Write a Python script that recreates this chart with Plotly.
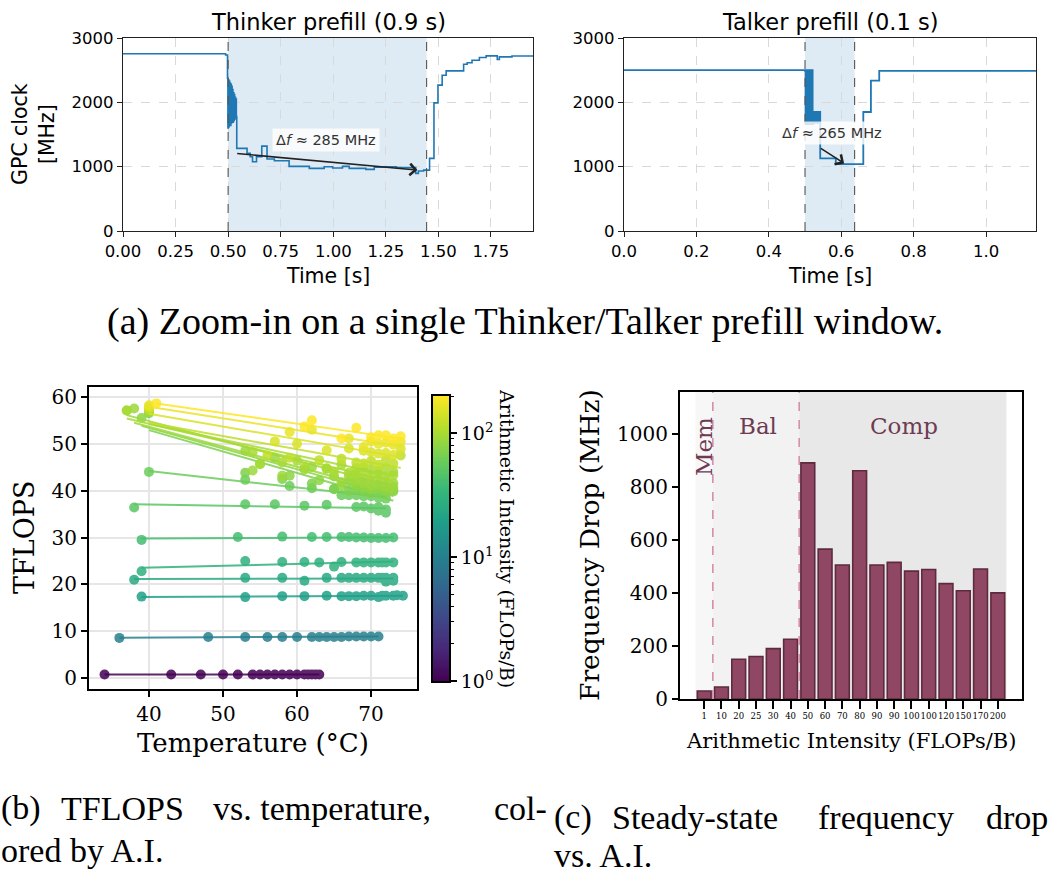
import numpy as np
import plotly.graph_objects as go
from plotly.colors import sample_colorscale

W, H = 1050, 876


def px(x):
    return x / W


def py(y):
    return 1 - y / H


SANS = "DejaVu Sans"
SERIF = "DejaVu Serif"
TIMES = "Liberation Serif"
BLUE = "#1f77b4"

# ---------------- (a) Thinker prefill ----------------
thinker_t = [0.0, 0.488,
             0.497, 0.499, 0.501, 0.503, 0.505, 0.507, 0.509, 0.511, 0.513, 0.515, 0.517,
             0.519, 0.521, 0.523, 0.525, 0.527, 0.529, 0.531, 0.533, 0.535, 0.537, 0.539,
             0.541, 0.590, 0.605, 0.616, 0.635, 0.645, 0.660, 0.685, 0.720, 0.790, 0.886,
             0.957, 0.997, 1.044, 1.076, 1.155, 1.195, 1.240, 1.300, 1.392, 1.405, 1.430,
             1.458, 1.479, 1.498, 1.518, 1.537, 1.620, 1.637, 1.660, 1.695, 1.727, 1.780,
             1.790, 1.850, 1.950]
thinker_f = [2755, 2735,
             2380, 1600, 2350, 1620, 2330, 1650, 2300, 1640, 2280, 1680, 2250,
             1700, 2200, 1690, 2150, 1720, 2120, 1740, 2080, 1760, 2050, 1780,
             1284, 1206, 1154, 1076, 1154, 1154, 1320, 1120, 1092, 1005, 973,
             999, 980, 1005, 973, 958, 990, 999, 985, 896, 932, 947,
             1129, 1992, 2267, 2422, 2489, 2593, 2615, 2655, 2696, 2722, 2666,
             2707, 2720, 2715]
thinker_window = [0.5, 1.444]

# ---------------- (a) Talker prefill ----------------
talker_t = [0.0,
            0.500, 0.5014, 0.5028, 0.5042, 0.5056, 0.5070, 0.5084, 0.5098, 0.5112, 0.5126,
            0.5140, 0.5154, 0.5168, 0.5182, 0.5196, 0.5210, 0.5225,
            0.5240, 0.5255, 0.5270, 0.5285, 0.5300, 0.5315, 0.5330, 0.5345, 0.5360,
            0.5375, 0.5390, 0.5405,
            0.542, 0.585, 0.661, 0.682, 0.705, 1.138]
talker_f = [2500,
            2490, 1660, 2500, 1660, 2490, 1660, 2500, 1660, 2490, 1660,
            2500, 1660, 2490, 1660, 2500, 1660, 1850,
            1680, 1850, 1680, 1850, 1680, 1850, 1680, 1850, 1680,
            1850, 1680, 1850,
            1130, 1040, 1850, 2337, 2490, 2490]
talker_window = [0.5, 0.637]

# ---------------- (b) TFLOPS vs temperature ----------------
scatter_ai = [1, 10, 20, 25, 30, 40, 50, 60, 70, 80, 90, 90, 100, 100, 120, 150, 170, 200]
scatter_temp = [
    [34, 43, 47, 50, 52, 54, 55, 56, 57, 58, 59, 60, 61, 61.5, 62, 62.5, 63],
    [36, 48, 53, 56, 58, 60, 62, 63, 64, 65, 66, 67, 68, 69, 70, 71],
    [39, 53, 58, 61, 64, 66, 67, 68, 69, 70, 71, 71.5, 72, 73, 73.5, 74.3],
    [38, 53, 58, 61, 64, 66, 67, 68, 69, 70, 71, 71.5, 72, 72, 73, 73],
    [39, 53, 58, 61, 63, 65, 66, 68, 69, 70, 71, 71.5, 72, 73],
    [39, 52, 58, 62, 64, 66, 67, 68, 69, 70, 71, 72, 73],
    [38, 53, 57, 61, 64, 68, 69, 70, 71, 71, 72, 72],
    [40, 53, 59, 62, 65, 66, 67, 68, 69, 70, 71, 72, 72],
    [40, 53, 58, 62, 65, 67, 68, 69, 70, 71, 72, 73],
    [39, 55, 59, 63, 66, 67, 68, 69, 70, 71, 72, 73],
    [38, 54, 58, 61, 65, 66, 68, 69, 70, 71, 72, 73],
    [37, 53, 57, 62, 64, 67, 68, 69, 70, 71, 72, 73],
    [37, 54, 58, 61, 65, 67, 68, 69, 70, 71, 72, 73],
    [40, 55, 60, 64, 66, 68, 69, 70, 71, 72, 73],
    [40, 56, 59, 63, 66, 68, 69, 70, 71, 72, 73, 74],
    [40, 57, 60, 64, 67, 69, 70, 71, 72, 73, 74],
    [40, 59, 62, 67, 69, 70, 71, 72, 73, 74],
    [41, 61, 62, 66, 68, 70, 71, 72, 73, 74],
]
scatter_tflops = [
    [0.8, 0.8, 0.8, 0.8, 0.8, 0.8, 0.8, 0.8, 0.8, 0.8, 0.8, 0.8, 0.8, 0.8, 0.8, 0.8, 0.8],
    [8.6, 8.8, 8.8, 8.8, 8.8, 8.8, 8.8, 8.8, 8.8, 8.8, 8.8, 8.9, 8.9, 8.9, 8.9, 8.9],
    [17.4, 17.3, 17.5, 17.5, 17.6, 17.5, 17.5, 17.5, 17.6, 17.6, 17.3, 17.6, 17.6, 17.6, 17.7, 17.6],
    [21.0, 21.4, 21.4, 20.8, 21.4, 21.4, 21.4, 21.4, 21.4, 21.4, 21.4, 21.4, 20.6, 21.4, 20.8, 21.4],
    [22.8, 25.0, 24.8, 24.8, 24.7, 23.8, 24.8, 24.7, 24.7, 24.7, 24.7, 24.7, 24.7, 24.7],
    [29.5, 30.1, 30.2, 30.1, 30.1, 30.1, 30.1, 30.0, 30.0, 29.9, 29.9, 29.9, 30.0],
    [36.4, 37.1, 37.1, 36.8, 37.0, 36.5, 36.6, 36.2, 35.7, 36.5, 35.3, 36.0],
    [44.0, 42.3, 41.0, 40.5, 40.3, 39.0, 39.0, 39.0, 38.8, 38.8, 38.5, 38.3, 39.8],
    [56.5, 43.8, 42.5, 41.5, 40.4, 40.0, 40.2, 39.8, 39.5, 39.9, 39.6, 39.8],
    [55.5, 45.7, 43.2, 42.2, 41.0, 41.8, 40.8, 40.5, 40.3, 40.6, 40.0, 40.2],
    [57.5, 44.3, 43.2, 44.5, 43.0, 41.8, 42.0, 41.5, 41.0, 41.3, 41.0, 40.8],
    [57.1, 48.5, 47.0, 45.0, 44.7, 43.0, 42.9, 42.5, 42.0, 42.3, 42.0, 41.6],
    [57.1, 48.2, 46.0, 45.0, 44.0, 43.8, 43.5, 44.0, 43.2, 43.5, 43.0, 43.3],
    [56.8, 45.7, 46.4, 44.7, 45.5, 44.8, 45.0, 44.5, 44.2, 44.8, 44.0],
    [57.3, 47.5, 47.0, 46.5, 46.8, 46.0, 45.8, 46.3, 45.5, 46.5, 45.8, 47.5],
    [57.8, 50.5, 50.0, 48.6, 49.0, 48.5, 48.2, 47.9, 48.0, 47.6, 48.9],
    [58.2, 52.5, 53.0, 51.1, 49.3, 50.5, 50.0, 50.2, 49.8, 50.4],
    [58.6, 53.7, 55.0, 51.1, 53.4, 51.4, 51.8, 51.8, 51.1, 51.6],
]
ai_colorbar_ticks = [1, 10, 100]
ai_max = 200

# ---------------- (c) Frequency drop vs A.I. ----------------
bar_labels = ["1", "10", "20", "25", "30", "40", "50", "60", "70", "80", "90", "90",
              "100", "100", "120", "150", "170", "200"]
bar_drop = [30, 45, 150, 160, 190, 225, 890, 565, 505, 860, 505, 515, 482, 488, 435, 408, 490, 400]
region_names = ["Mem", "Bal", "Comp"]
region_bounds = [-0.5, 0.5, 5.5, 17.5]

fig = go.Figure()

# ---- panel (a) traces
fig.add_trace(go.Scatter(x=thinker_t, y=thinker_f, mode="lines",
                         line=dict(color=BLUE, width=1.6, shape="hv"),
                         xaxis="x", yaxis="y", showlegend=False))
fig.add_trace(go.Scatter(x=talker_t, y=talker_f, mode="lines",
                         line=dict(color=BLUE, width=1.8, shape="hv"),
                         xaxis="x2", yaxis="y2", showlegend=False))

shapes = []
annotations = []
for ax_id, win in (("x", thinker_window), ("x2", talker_window)):
    yref = ("y" if ax_id == "x" else "y2") + " domain"
    shapes.append(dict(type="rect", xref=ax_id, yref=yref, x0=win[0], x1=win[1], y0=0, y1=1,
                       fillcolor="rgba(31,119,180,0.15)", line=dict(width=0), layer="below"))
    for b in win:
        shapes.append(dict(type="line", xref=ax_id, yref=yref, x0=b, x1=b, y0=0, y1=1,
                           line=dict(color="#555555", width=1.1, dash="dash"), layer="above"))

# arrows + labels
arrow_specs = [
    ("x", "y", (1.40, 947), (0.536, 1206), (0.965, 1413), "Δ<i>f</i> ≈ 285 MHz"),
    ("x2", "y2", (0.608, 1051), (0.5395, 1300), (0.574, 1517), "Δ<i>f</i> ≈ 265 MHz"),
]
for xr, yr, tip, tail, tpos, txt in arrow_specs:
    annotations.append(dict(xref=xr, yref=yr, axref=xr, ayref=yr, x=tip[0], y=tip[1],
                            ax=tail[0], ay=tail[1], text="", showarrow=True,
                            arrowhead=4, arrowsize=1.4, arrowwidth=1.6, arrowcolor="#222222",
                            standoff=0, startstandoff=0))
    annotations.append(dict(xref=xr, yref=yr, x=tpos[0], y=tpos[1], text=txt, showarrow=False,
                            xanchor="center", yanchor="middle",
                            font=dict(family=SANS, size=14.5, color="#333333"),
                            bgcolor="rgba(255,255,255,0.8)", borderpad=3))

# ---- panel (b) traces
cmax = np.log10(ai_max)
for ai, temps, tfl in zip(scatter_ai, scatter_temp, scatter_tflops):
    val = np.log10(ai) / cmax
    col = sample_colorscale("Viridis", [val])[0]
    fig.add_trace(go.Scatter(x=temps, y=tfl, mode="markers",
                             marker=dict(size=10, color=[np.log10(ai)] * len(temps),
                                         colorscale="Viridis", cmin=0, cmax=cmax,
                                         line=dict(width=0)),
                             opacity=0.85, xaxis="x3", yaxis="y3", showlegend=False))
    coef = np.polyfit(temps, tfl, 1)
    tx = [min(temps), max(temps)]
    fig.add_trace(go.Scatter(x=tx, y=list(np.polyval(coef, tx)), mode="lines",
                             line=dict(color=col, width=2), opacity=0.85,
                             xaxis="x3", yaxis="y3", showlegend=False))

# colorbar as a heatmap on its own axis
levels = np.linspace(0, cmax, 256)
fig.add_trace(go.Heatmap(x=[0], y=levels, z=[[v] for v in levels], colorscale="Viridis",
                         zmin=0, zmax=cmax, showscale=False, xaxis="x5", yaxis="y5",
                         hoverinfo="skip"))

# ---- panel (c) traces
bar_x = list(range(len(bar_labels)))
for i in range(len(region_names)):
    shapes.append(dict(type="rect", xref="x4", yref="y4 domain",
                       x0=region_bounds[i], x1=region_bounds[i + 1], y0=0, y1=1,
                       fillcolor=["#f7f7f7", "#f2f2f2", "#e8e8e8"][i],
                       line=dict(width=0), layer="below"))
for b in region_bounds[1:3]:
    shapes.append(dict(type="line", xref="x4", yref="y4 domain", x0=b, x1=b, y0=0, y1=1,
                       line=dict(color="#d68fac", width=1.6, dash="dash"), layer="above"))
fig.add_trace(go.Bar(x=bar_x, y=bar_drop, width=0.8,
                     marker=dict(color="#904764", line=dict(color="#5e2a3e", width=1.6)),
                     xaxis="x4", yaxis="y4", showlegend=False))
region_text_pos = [(0, 950, -90), (3.1, 1028, 0), (11.55, 1028, 0)]
for name, (xx, yy, ang) in zip(region_names, region_text_pos):
    annotations.append(dict(xref="x4", yref="y4", x=xx, y=yy, text=name, showarrow=False,
                            xanchor="center", yanchor="middle", textangle=ang,
                            font=dict(family=SERIF, size=23, color="#6e3b52")))


def label(x, y, text, font, angle=0):
    return dict(xref="paper", yref="paper", x=px(x), y=py(y), text=text, showarrow=False,
                xanchor="center", yanchor="middle", textangle=angle, font=font)


annotations += [
    label(328, 22, "Thinker prefill (0.9 s)", dict(family=SANS, size=22.5, color="black")),
    label(830, 22, "Talker prefill (0.1 s)", dict(family=SANS, size=22.5, color="black")),
    label(33, 134, "GPC clock<br>[MHz]", dict(family=SANS, size=20.5, color="black"), -90),
    label(328, 276, "Time [s]", dict(family=SANS, size=20.5, color="black")),
    label(830, 276, "Time [s]", dict(family=SANS, size=20.5, color="black")),
    label(525, 321, "(a) Zoom-in on a single Thinker/Talker prefill window.",
          dict(family=TIMES, size=38, color="black")),
    label(24, 538, "TFLOPS", dict(family=SERIF, size=27, color="black"), -90),
    label(253, 743, "Temperature (°C)", dict(family=SERIF, size=26, color="black")),
    label(507, 538, "Arithmetic Intensity (FLOPs/B)", dict(family=SERIF, size=19, color="black"), 90),
    label(589, 545, "Frequency Drop (MHz)", dict(family=SERIF, size=26.5, color="black"), -90),
    label(851, 741, "Arithmetic Intensity (FLOPs/B)", dict(family=SERIF, size=21, color="black")),
]
cap_font = dict(family=TIMES, size=34, color="black")
caption_words = [
    (0, 808, "(b)"), (60, 808, "TFLOPS"), (212, 808, "vs. temperature,"), (493, 808, "col-"),
    (0, 850, "ored by A.I."),
    (553, 817, "(c)"), (611, 817, "Steady-state"), (817, 817, "frequency"), (985, 817, "drop"),
    (553, 855, "vs. A.I."),
]
for xx, yy, txt in caption_words:
    annotations.append(dict(xref="paper", yref="paper", x=px(xx), y=py(yy), text=txt,
                            xanchor="left", yanchor="middle", showarrow=False, borderpad=0,
                            font=cap_font))

frame_a = dict(showline=True, linecolor="#222222", linewidth=1.2, mirror=True,
               ticks="outside", ticklen=5, tickwidth=1.1, tickcolor="#222222",
               showgrid=True, gridcolor="#d9d9d9", gridwidth=0.8, griddash="dash",
               zeroline=False, automargin=False,
               tickfont=dict(family=SANS, size=16.5, color="black"))
frame_b = dict(showline=True, linecolor="black", linewidth=2, mirror=True,
               ticks="outside", ticklen=6, tickwidth=1.6, tickcolor="black",
               zeroline=False, automargin=False,
               tickfont=dict(family=SERIF, size=20, color="black"))

a_y0, a_y1 = py(231), py(38)
fig.update_layout(
    width=W, height=H, margin=dict(l=0, r=0, t=0, b=0, autoexpand=False),
    paper_bgcolor="white", plot_bgcolor="white", showlegend=False,
    xaxis=dict(domain=[px(123), px(533)], range=[0, 1.95], tickvals=[0, 0.25, 0.5, 0.75, 1.0, 1.25, 1.5, 1.75],
               tickformat=".2f", anchor="y", **frame_a),
    yaxis=dict(domain=[a_y0, a_y1], range=[0, 3000], tickvals=[0, 1000, 2000, 3000], anchor="x", **frame_a),
    xaxis2=dict(domain=[px(624), px(1036)], range=[0, 1.138], tickvals=[0, 0.2, 0.4, 0.6, 0.8, 1.0],
                tickformat=".1f", anchor="y2", **frame_a),
    yaxis2=dict(domain=[a_y0, a_y1], range=[0, 3000], tickvals=[0, 1000, 2000, 3000], anchor="x2", **frame_a),
    xaxis3=dict(domain=[px(89), px(417)], range=[31.9, 76.2], tickvals=[40, 50, 60, 70], anchor="y3",
                showgrid=True, gridcolor="#e6e6e6", gridwidth=1.5, **frame_b),
    yaxis3=dict(domain=[py(689), py(387)], range=[-2.3, 62.1], tickvals=[0, 10, 20, 30, 40, 50, 60],
                anchor="x3", showgrid=True, gridcolor="#e6e6e6", gridwidth=1.5, **frame_b),
    xaxis4=dict(domain=[px(680), px(1022)], range=[-1.4, 18.4], tickvals=bar_x, ticktext=bar_labels,
                tickangle=0, anchor="y4", showgrid=False, showline=True, linecolor="black", linewidth=2,
                mirror=True, ticks="outside", ticklen=8, tickwidth=2, tickcolor="black", zeroline=False,
                automargin=False, tickfont=dict(family=SERIF, size=8.5, color="black")),
    yaxis4=dict(domain=[py(699), py(392)], range=[0, 1157], tickvals=[0, 200, 400, 600, 800, 1000],
                anchor="x4", showgrid=False, **frame_b),
    xaxis5=dict(domain=[px(433), px(449)], range=[-0.5, 0.5], anchor="y5", showticklabels=False,
                ticks="", showgrid=False, zeroline=False, showline=True, linecolor="black",
                linewidth=1.8, mirror=True, automargin=False),
    yaxis5=dict(domain=[py(681), py(396)], range=[0, cmax], anchor="x5", side="right",
                tickvals=[float(np.log10(v)) for v in ai_colorbar_ticks],
                ticktext=["10<sup>%d</sup>" % int(round(np.log10(v))) for v in ai_colorbar_ticks],
                ticks="outside", ticklen=6, tickwidth=1.5, tickcolor="black",
                minor=dict(tickmode="array",
                           tickvals=[float(np.log10(m * d)) for d in (1, 10) for m in range(2, 10)]
                           + [float(np.log10(200))],
                           ticks="outside", ticklen=3.5, tickwidth=1, tickcolor="black", showgrid=False),
                showgrid=False, zeroline=False, showline=True, linecolor="black", linewidth=1.8,
                mirror=True, automargin=False, tickfont=dict(family=SERIF, size=19, color="black")),
    shapes=shapes, annotations=annotations,
)

fig.write_html("out.html")
